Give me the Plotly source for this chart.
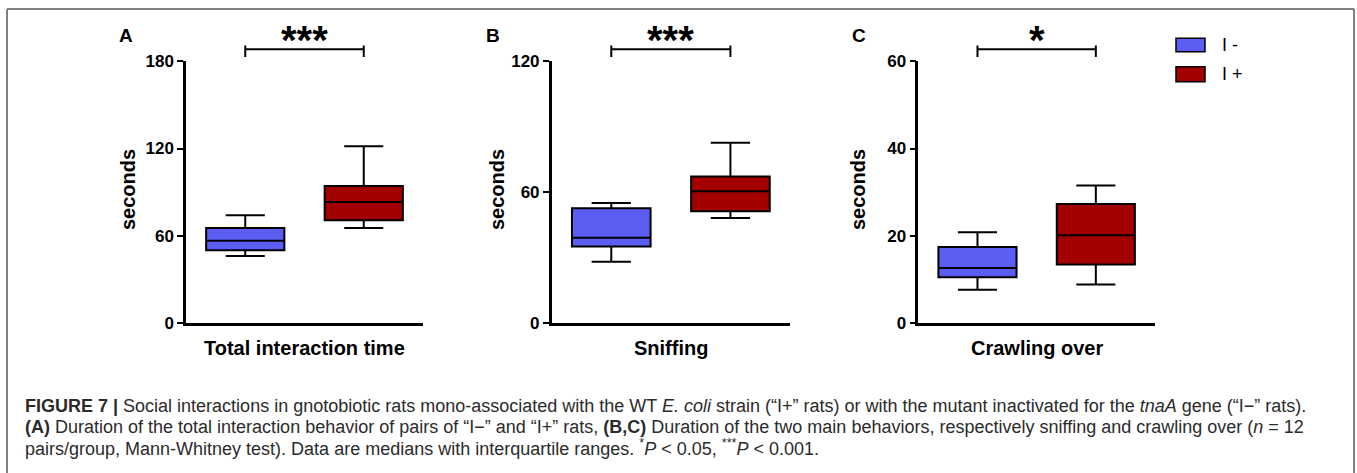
import plotly.graph_objects as go

W, H = 1357, 473

# ---------------- data ----------------
groups = ["I -", "I +"]
panels = ["A", "B", "C"]
titles = ["Total interaction time", "Sniffing", "Crawling over"]
ymax = [180, 120, 60]
ytick_vals = [[0, 60, 120, 180], [0, 60, 120], [0, 20, 40, 60]]
signif = ["***", "***", "*"]

# per panel: [I-, I+]
lower = [[46.1, 65.3], [28.1, 48.2], [7.6, 8.8]]
q1 = [[50.0, 70.6], [35.1, 51.2], [10.5, 13.4]]
median = [[56.5, 83.2], [39.1, 60.4], [12.6, 20.1]]
q3 = [[65.3, 94.2], [52.6, 67.2], [17.4, 27.3]]
upper = [[74.1, 121.5], [55.0, 82.6], [20.8, 31.5]]

colors = ["#5b5df3", "#a30000"]

caption = [
    "<b>FIGURE 7 |</b> Social interactions in gnotobiotic rats mono-associated with the WT <i>E. coli</i> strain (“I+” rats) or with the mutant inactivated for the <i>tnaA</i> gene (“I−” rats).",
    "<b>(A)</b> Duration of the total interaction behavior of pairs of “I−” and “I+” rats, <b>(B,C)</b> Duration of the two main behaviors, respectively sniffing and crawling over (<i>n</i> = 12",
    "pairs/group, Mann-Whitney test). Data are medians with interquartile ranges. <sup>*</sup><i>P</i> < 0.05, <sup>***</sup><i>P</i> < 0.001.",
]

# ---------------- layout helpers ----------------
def px(x):
    return x / W

def py(y):
    return 1 - y / H

ax_left = [186, 551.7, 918.3]
ax_right = [423, 790, 1155]
ax_top, ax_bot = 61.3, 323.0
ylab_x = [128, 497, 858]
letter_x = [126, 493, 859]

FONT = "Liberation Sans, Arial, sans-serif"

fig = go.Figure()
layout = dict(
    width=W, height=H, margin=dict(l=0, r=0, t=0, b=0),
    paper_bgcolor="white", plot_bgcolor="white", showlegend=False,
    font=dict(family=FONT, color="black"),
)
annotations = []
shapes = []

for p in range(3):
    xa = "x" if p == 0 else f"x{p+1}"
    ya = "y" if p == 0 else f"y{p+1}"
    for g in range(2):
        fig.add_trace(go.Box(
            x=[g], q1=[q1[p][g]], median=[median[p][g]], q3=[q3[p][g]],
            lowerfence=[lower[p][g]], upperfence=[upper[p][g]],
            fillcolor=colors[g], line=dict(color="black", width=2),
            width=0.66, whiskerwidth=0.5, boxpoints=False,
            name=groups[g], xaxis=xa, yaxis=ya, hoverinfo="skip",
        ))
    xkey = "xaxis" if p == 0 else f"xaxis{p+1}"
    ykey = "yaxis" if p == 0 else f"yaxis{p+1}"
    layout[xkey] = dict(
        domain=[px(ax_left[p]), px(ax_right[p])], range=[-0.5, 1.5],
        anchor=ya, showline=True, linecolor="black", linewidth=2.5,
        showticklabels=False, ticks="", showgrid=False, zeroline=False,
        fixedrange=True, automargin=False,
    )
    layout[ykey] = dict(
        domain=[py(ax_bot), py(ax_top)], range=[0, ymax[p]], anchor=xa,
        tickvals=ytick_vals[p], showline=True, linecolor="black", linewidth=2.5,
        ticks="outside", ticklen=6, tickwidth=2, tickcolor="black",
        tickfont=dict(size=17, family=FONT, weight="bold", color="black"),
        showgrid=False, zeroline=False, fixedrange=True, automargin=False,
    )
    annotations.append(dict(
        text=f"<b>{titles[p]}</b>", x=(ax_left[p] + ax_right[p]) / 2 / W,
        xref="paper", y=py(348), yref="paper", showarrow=False,
        xanchor="center", yanchor="middle", font=dict(size=20, color="black"),
    ))
    annotations.append(dict(
        text="<b>seconds</b>", x=px(ylab_x[p]), y=py(190), xref="paper", yref="paper",
        showarrow=False, textangle=-90, xanchor="center", yanchor="middle",
        font=dict(size=20, color="black"),
    ))
    annotations.append(dict(
        text=f"<b>{panels[p]}</b>", x=px(letter_x[p]), y=py(35.5), xref="paper", yref="paper",
        showarrow=False, xanchor="center", yanchor="middle", font=dict(size=19, color="black"),
    ))
    xr = xa
    shapes.append(dict(type="line", xref=xr, yref="paper", x0=0, x1=1, y0=py(49.3), y1=py(49.3),
                       line=dict(color="black", width=2)))
    for xx in (0, 1):
        shapes.append(dict(type="line", xref=xr, yref="paper", x0=xx, x1=xx, y0=py(45.5), y1=py(57),
                           line=dict(color="black", width=2)))
    annotations.append(dict(
        text=f"<b>{signif[p]}</b>", x=0.5, xref=xr, y=py(40), yref="paper", showarrow=False,
        xanchor="center", yanchor="middle", font=dict(size=40, color="black"),
    ))

# legend (manual)
leg_y = [(38.3, 51.7), (66.7, 81.7)]
for g in range(2):
    shapes.append(dict(type="rect", xref="paper", yref="paper",
                       x0=px(1176), x1=px(1205), y0=py(leg_y[g][1]), y1=py(leg_y[g][0]),
                       fillcolor=colors[g], line=dict(color="black", width=1.5)))
    annotations.append(dict(
        text=groups[g], x=px(1220), y=py((leg_y[g][0] + leg_y[g][1]) / 2), xref="paper", yref="paper",
        showarrow=False, xanchor="left", yanchor="middle", font=dict(size=18, color="black"),
    ))

# frame
frame = dict(color="#808080", width=2)
shapes.append(dict(type="line", xref="paper", yref="paper", x0=px(7), x1=px(1354), y0=py(9), y1=py(9), line=frame))
shapes.append(dict(type="line", xref="paper", yref="paper", x0=px(7), x1=px(7), y0=py(9), y1=0, line=frame))
shapes.append(dict(type="line", xref="paper", yref="paper", x0=px(1354), x1=px(1354), y0=py(9), y1=0, line=frame))

# caption
cap_y = [406, 426.5, 447]
for i, line in enumerate(caption):
    annotations.append(dict(
        text=line, x=px(23), y=py(cap_y[i]), xref="paper", yref="paper", showarrow=False,
        xanchor="left", yanchor="middle", align="left",
        font=dict(size=18, color="#2b2b2b", family=FONT),
    ))

layout["annotations"] = annotations
layout["shapes"] = shapes
fig.update_layout(**layout)
fig.write_html(
    "out.html",
    config={"displayModeBar": False},
    post_script="document.body.style.margin='0';document.body.style.overflow='hidden';",
)
